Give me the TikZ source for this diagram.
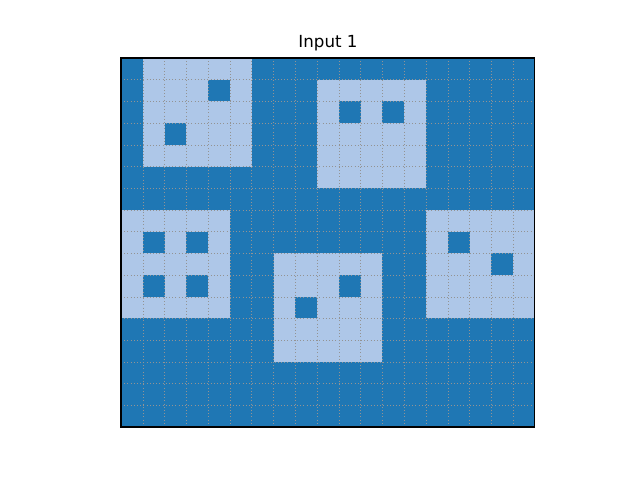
\documentclass[tikz,border=0pt]{standalone}
\usepackage{fontspec}
\setmainfont{DejaVu Sans}
\usepackage{xcolor}
\usetikzlibrary{calc}
\definecolor{cellfg}{HTML}{1F77B4}
\definecolor{cellbg}{HTML}{AEC7E8}
\tikzset{
    title/.style={font=\fontsize{12.5}{15}\selectfont, inner sep=0pt},
    darkcell/.style={fill=cellfg},
    lightcell/.style={fill=cellbg},
    gridline/.style={draw=gray!85, dotted, line width=0.4pt},
    frame/.style={draw=black, line width=0.8pt}
}
\begin{document}
\begin{tikzpicture}[x=0.75pt, y=-0.75pt]
    \useasboundingbox (0,0) rectangle (640,480);
    \node[title] (title) at (328,43) {Input 1};
    \begin{scope}[shift={(121,58)}, x=16.34pt, y=-16.28pt]
        % background
        \fill[darkcell] (0,0) rectangle (19,17);
        % light blocks, 5x5 each
        \foreach \c/\r in {1/0, 9/1, 0/7, 7/9, 14/7}
            \fill[lightcell] (\c,\r) rectangle ++(5,5);
        % holes
        \foreach \c/\r in {4/1, 2/3, 10/2, 12/2, 1/8, 3/8, 1/10, 3/10, 10/10, 8/11, 15/8, 17/9}
            \fill[darkcell] (\c,\r) rectangle ++(1,1);
        % grid
        \foreach \c in {1,...,18}
            \draw[gridline] (\c,0) -- (\c,17);
        \foreach \r in {1,...,16}
            \draw[gridline] (0,\r) -- (19,\r);
        \draw[frame] (0,0) rectangle (19,17);
    \end{scope}
\end{tikzpicture}
\end{document}
